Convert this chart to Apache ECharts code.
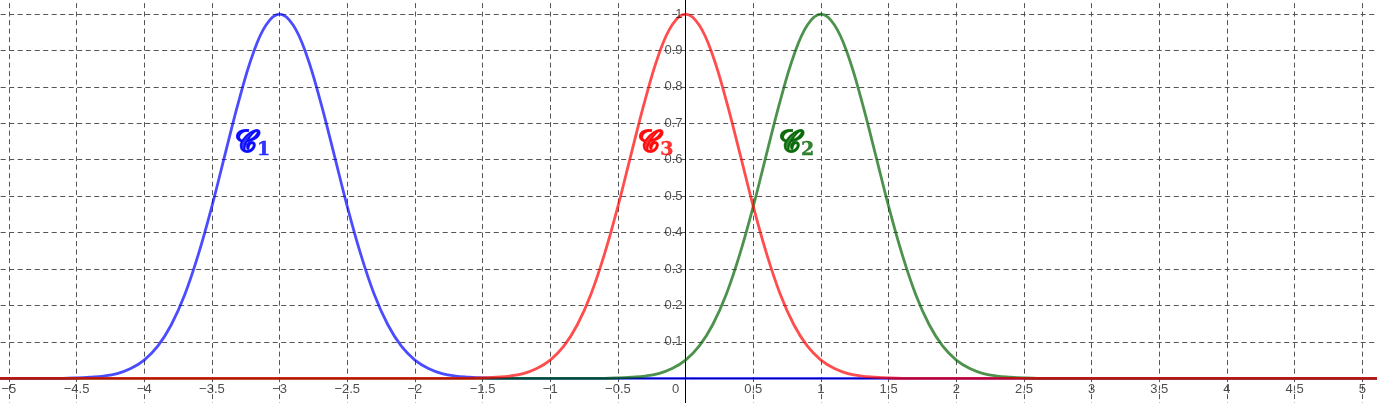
<!DOCTYPE html>
<html><head><meta charset="utf-8">
<script src="https://cdn.jsdelivr.net/npm/echarts@6/dist/echarts.min.js"></script>
<style>html,body{margin:0;padding:0;background:#fff}#c{width:1377px;height:403px}</style>
</head><body><div id="c"></div>
<script>
// sample offsets from each curve's centre (x units)
const offsets = [-1.6,-1.5,-1.4,-1.3,-1.2,-1.1,-1.0,-0.9,-0.8,-0.7,-0.6,-0.5,-0.4,-0.3,-0.2,-0.1,0,
                 0.1,0.2,0.3,0.4,0.5,0.6,0.7,0.8,0.9,1.0,1.1,1.2,1.3,1.4,1.5,1.6];
const c1Center = -3;
const c2Center = 1;
const c3Center = 0;
// values
const c1Y = [0.000,0.001,0.003,0.006,0.013,0.027,0.050,0.088,0.147,0.230,0.340,0.472,0.619,0.763,0.887,0.970,1.000,
             0.970,0.887,0.763,0.619,0.472,0.340,0.230,0.147,0.088,0.050,0.027,0.013,0.006,0.003,0.001,0.000];
const c2Y = [0.000,0.001,0.003,0.006,0.013,0.027,0.050,0.088,0.147,0.230,0.340,0.472,0.619,0.763,0.887,0.970,1.000,
             0.970,0.887,0.763,0.619,0.472,0.340,0.230,0.147,0.088,0.050,0.027,0.013,0.006,0.003,0.001,0.000];
const c3Y = [0.000,0.001,0.003,0.006,0.013,0.027,0.050,0.088,0.147,0.230,0.340,0.472,0.619,0.763,0.887,0.970,1.000,
             0.970,0.887,0.763,0.619,0.472,0.340,0.230,0.147,0.088,0.050,0.027,0.013,0.006,0.003,0.001,0.000];
// tick labels
const xTickVals = [-5,-4.5,-4,-3.5,-3,-2.5,-2,-1.5,-1,-0.5,0,0.5,1,1.5,2,2.5,3,3.5,4,4.5,5];
const yTickVals = [0.1,0.2,0.3,0.4,0.5,0.6,0.7,0.8,0.9,1];
// curve name labels
const labelSubs = ['1','3','2'];
const labelX = [-3.2, -0.22, 0.82];
const labelY = [0.645, 0.645, 0.645];
const labelColors = ['#0000ff','#ff0000','#006400'];

const FONT = 'Liberation Sans, Arial, sans-serif';
function build(center, ys) {
  const d = [[-6, 0]];
  offsets.forEach((o, i) => d.push([+(center + o).toFixed(2), ys[i]]));
  d.push([6, 0]);
  return d;
}
function curve(center, ys, color) {
  return {type:'line', data: build(center, ys), smooth: 0.4, symbol:'none', silent:true,
    lineStyle:{color: color, width: 2.8}, z: 2};
}
function fmtNum(v) {
  const s = String(+Math.abs(v).toFixed(2));
  return v < 0 ? '\u2212' + s : s;
}
const xTickSeries = {
  type:'scatter', symbolSize:0, silent:true, z:4,
  data: xTickVals.map(v => ({value:[v, 0], label: v === 0 ? {offset:[-10, 0]} : {}})),
  label:{show:true, position:'bottom', distance:5, color:'#222', fontFamily:FONT, fontSize:13,
    formatter: p => fmtNum(p.value[0])}
};
const yTickSeries = {
  type:'scatter', symbolSize:0, silent:true, z:4,
  data: yTickVals.map(v => [0, v]),
  label:{show:true, position:'left', distance:3, color:'#222', fontFamily:FONT, fontSize:13,
    formatter: p => fmtNum(p.value[1])}
};
const labelSeries = labelSubs.map((sub, i) => ({
  type:'scatter', symbolSize: 0, silent:true, z: 5,
  data: [[labelX[i], labelY[i]]],
  label: {show:true, position:'inside',
    formatter: '{c|\uD835\uDCD2}{s|' + sub + '}',
    rich: {
      c: {fontFamily:'DejaVu Serif, serif', fontSize:30, fontWeight:'bold', color: labelColors[i],
          textBorderColor: labelColors[i], textBorderWidth: 1, lineHeight:32, verticalAlign:'middle'},
      s: {fontFamily:'DejaVu Serif, serif', fontSize:19, fontWeight:'bold', color: labelColors[i],
          textBorderColor: labelColors[i], textBorderWidth: 0.4, verticalAlign:'bottom', lineHeight:20, padding:[0,0,0,1]}
    }}
}));

const chart = echarts.init(document.getElementById('c'));
chart.setOption({
  animation:false,
  backgroundColor:'#fff',
  grid:{left:-58.8, right:-53.0, top:-22.4, bottom:-11.7, containLabel:false, outerBoundsMode:'none'},
  xAxis:{type:'value', min:-5.5, max:5.5, interval:0.5,
    axisLine:{onZero:true, lineStyle:{color:'#000', width:1}},
    axisTick:{show:false}, axisLabel:{show:false},
    splitLine:{show:true, lineStyle:{color:'#555', type:[5,3.5], width:1}}
  },
  yAxis:{type:'value', min:-0.1, max:1.1, interval:0.1,
    axisLine:{onZero:true, lineStyle:{color:'#000', width:1}},
    axisTick:{show:false}, axisLabel:{show:false},
    splitLine:{show:true, lineStyle:{color:'#555', type:[5,3.5], width:1}}
  },
  series: [
    curve(c1Center, c1Y, 'rgba(0,0,255,0.7)'),
    curve(c2Center, c2Y, 'rgba(0,100,0,0.7)'),
    curve(c3Center, c3Y, 'rgba(255,0,0,0.7)'),
    xTickSeries, yTickSeries
  ].concat(labelSeries)
});
</script></body></html>
